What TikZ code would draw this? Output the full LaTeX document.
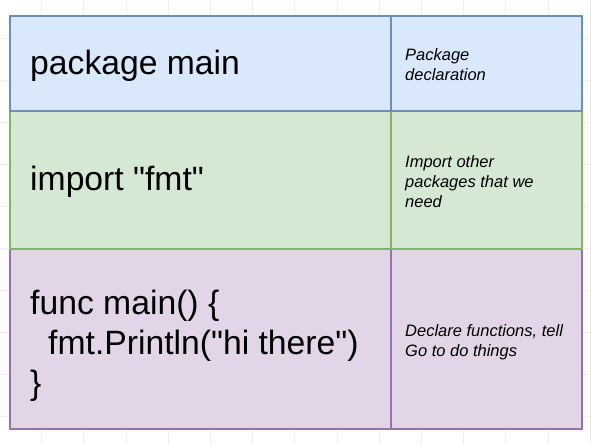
\documentclass[tikz,border=0pt]{standalone}
\usepackage{fontspec}
\setmainfont{Liberation Sans}[Ligatures=TeXOff]
\definecolor{bfill}{HTML}{DAE8FC}
\definecolor{bline}{HTML}{6C8EBF}
\definecolor{gfill}{HTML}{D5E8D4}
\definecolor{gline}{HTML}{82B366}
\definecolor{pfill}{HTML}{E1D5E7}
\definecolor{pline}{HTML}{9673A6}
\definecolor{gridc}{HTML}{EEEEEE}
\begin{document}
\begin{tikzpicture}[x=1pt,y=-1pt,
  gridline/.style={draw=gridc,line width=0.8pt},
  cell/.style={rectangle,line width=2pt,outer sep=0pt,anchor=north west,inner sep=0pt},
  codecell/.style={cell,minimum width=381pt},
  notecell/.style={cell,minimum width=191pt},
  codetext/.style={anchor=west,align=left,inner sep=0pt,font=\fontsize{33.7}{39.8}\selectfont},
  notetext/.style={anchor=west,align=left,inner sep=0pt,font=\fontsize{16.5}{20}\selectfont\itshape}]
\useasboundingbox (0,0) rectangle (591,445);
\fill[white] (0,0) rectangle (591,445);
\foreach \i in {0,...,13} \draw[gridline] ({41.5+42.2*\i},0) -- ({41.5+42.2*\i},445);
\foreach \j in {0,...,9} \draw[gridline] (0,{38+42*\j}) -- (591,{38+42*\j});
% row 3
\node[codecell,fill=pfill,draw=pline,minimum height=180pt] (c3l) at (10,249) {};
\node[notecell,fill=pfill,draw=pline,minimum height=180pt] (c3r) at (391,249) {};
% row 2
\node[codecell,fill=gfill,draw=gline,minimum height=138pt] (c2l) at (10,111) {};
\node[notecell,fill=gfill,draw=gline,minimum height=138pt] (c2r) at (391,111) {};
% row 1
\node[codecell,fill=bfill,draw=bline,minimum height=95pt] (c1l) at (10,16) {};
\node[notecell,fill=bfill,draw=bline,minimum height=95pt] (c1r) at (391,16) {};
% texts
\node[codetext] (t1l) at ([xshift=20pt,yshift=-2pt]c1l.west) {package main};
\node[codetext] (t2l) at ([xshift=20pt,yshift=-2pt]c2l.west) {import "fmt"};
\node[codetext] (t3l) at ([xshift=20pt,yshift=-7pt]c3l.west)
  {func main() \{\\\hspace*{18pt}fmt.Println("hi there")\\\}};
\node[notetext] (t1r) at ([xshift=14pt,yshift=-1pt]c1r.west) {Package\\declaration};
\node[notetext] (t2r) at ([xshift=14pt,yshift=-2pt]c2r.west) {Import other\\packages that we\\need};
\node[notetext] (t3r) at ([xshift=14pt,yshift=-3pt]c3r.west) {Declare functions, tell\\Go to do things};
\end{tikzpicture}
\end{document}
